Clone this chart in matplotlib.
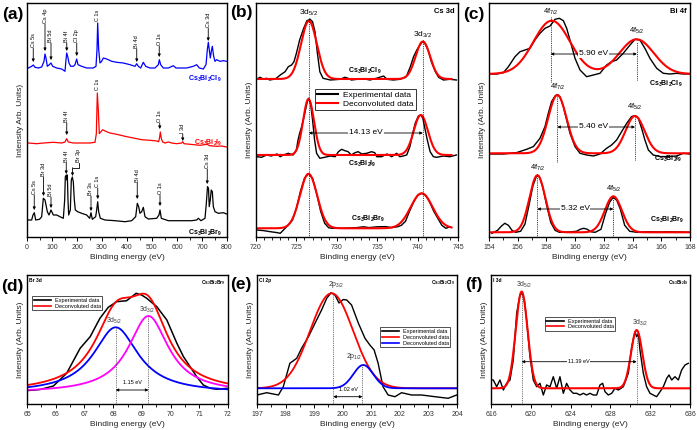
import numpy as np
import matplotlib
matplotlib.use('Agg')
import matplotlib.pyplot as plt
from matplotlib.ticker import MultipleLocator
from matplotlib.lines import Line2D

plt.rcParams['font.family'] = ['Liberation Sans', 'DejaVu Sans']
plt.rcParams['mathtext.fontset'] = 'custom'
plt.rcParams['mathtext.rm'] = 'Liberation Sans'
plt.rcParams['mathtext.bf'] = 'Liberation Sans:bold'
plt.rcParams['mathtext.it'] = 'Liberation Sans:italic'

# ---------------- (a) survey spectra ----------------
a_cl_x = [5.3, 18.7, 25.3, 32, 45.3, 58.7, 68, 72, 76, 81.3, 89.3, 96, 102.7, 118.7, 138.7, 152, 156, 158.7, 162.7, 168,
          174.7, 185.3, 192, 198.7, 204, 218.7, 238.7, 265.3, 276, 280, 282.7, 286.7, 292, 298.7, 305.3, 318.7, 338.7, 358.7,
          385.3, 412, 432, 438.7, 445.3, 454.7, 465.3, 474.7, 492, 512, 525.3, 529.3, 534.7, 545.3, 565.3, 585.3, 596, 618.7,
          638.7, 665.3, 678.7, 689.3, 705.3, 716, 721.3, 725.3, 730.7, 733.3, 737.3, 741.3, 746.7, 752, 758.7, 772, 785.3, 798.7]
a_cl_y = [0, 1.7, 3, 0.7, 0, 1, 6.7, 14, 10, 1.7, 3.3, 5, 1.7, 0, -1, -3.3, 8.3, 15, 11.7, 5,
          1.7, 1.7, 3.3, 9, 3.3, 1.7, 0, 0, 1.7, 18.3, 45, 18.3, 5, 6.7, 10, 9, 6.7, 5.7, 5, 3.3,
          1.7, 4.3, 1.7, 0, 5.7, 1.7, 0, 0, 3.3, 8.3, 3.3, 0, 0, 2.3, 0, 0, 0, 1.7, 3.3, 0,
          -1, 3.3, 18.3, 25.7, 15, 10, 16.7, 21.7, 11.7, 6.7, 8.3, 6.7, 7.3, 6.7]
a_i_x = [5.3, 38.7, 65.3, 105.3, 138.7, 152, 158.7, 165.3, 185.3, 225.3, 252, 272, 277.3, 281.3, 285.3, 289.3, 294.7,
         302.7, 312, 332, 358.7, 392, 425.3, 458.7, 492, 518.7, 526.7, 530.7, 533.3, 537.3, 542.7, 552, 565.3, 578.7,
         598.7, 618.7, 622.7, 628, 652, 692, 718.7, 732, 758.7, 778.7, 798.7]
a_i_y = [0, -0.7, 0, 0.7, 0, 1, 4.3, 1, 0, 0, 0, 0.7, 9.3, 50, 32.7, 9.3, 11, 13.3, 12, 10,
         8.7, 6.7, 5, 3.3, 2.7, 2, 1.3, 6, 11, 4.3, 1, 0, 1, 0, -0.7, 0, 1.3, -0.7, -1.3, -2.3,
         -1.3, -2.7, -3.3, -3, -4]
a_br_x = [5.3, 18.7, 24, 29.3, 34.7, 50, 58.7, 65.3, 72, 76, 81.3, 88, 96, 105.3, 118.7, 132, 145.3, 150.7, 153.3, 157.3,
          160, 161.3, 164, 166.7, 173.3, 177.3, 181.3, 185.3, 189.3, 193.3, 202.7, 218.7, 238.7, 250.7, 256, 261.3, 274.7,
          278.7, 282.7, 286.7, 293.3, 312, 352, 392, 418.7, 434.7, 441.3, 446.7, 452, 458.7, 465.3, 472, 485.3, 518.7, 528,
          532, 537.3, 565.3, 618.7, 658.7, 678.7, 685.3, 696, 712, 717.3, 722, 726, 729, 733, 737, 741.3, 745.3, 752, 765.3,
          785.3, 798.7]
a_br_y = [0, 0, 5, 7.3, 0, 0.7, 3.3, 21.7, 20, 15, 8.3, 5, 10, 5, 5, 3.3, 1.7, 20, 43.3, 45,
          40, 45, 20, 5, 10, 40, 43, 38, 20, 10, 8.3, 6.7, 5, 1.7, 7.3, 0.7, 3.3, 10, 18.3, 8.3,
          1.7, 0, -0.7, -1.7, -0.7, 3.3, 16.7, 13.3, 6.7, 8.3, 12.7, 3.3, 1, 1.7, 5, 10, 1.7, -0.7, -0.7, -0.7,
          0, 1.7, -0.7, 1.7, 16.7, 33.3, 31.7, 13.3, 20, 30, 28.3, 13.3, 8.3, 6.7, 7.3, 6]
a_cl_peaks = ['Cs 5s', 'Cs 4p', 'Bi 5d', 'Bi 4f', 'Cl 2p', 'C 1s', 'Bi 4d', 'O 1s', 'Cs 3d']
a_cl_peak_x = [25, 72, 96, 159, 199, 283, 439, 529, 725]
a_i_peaks = ['Bi 4f', 'C 1s', 'O 1s', 'I 3d']
a_i_peak_x = [159, 282, 531, 623]
a_br_peaks = ['Cs 5s', 'Br 3d', 'Bi 5d', 'Bi 4f', 'Br 3s', 'C 1s', 'Bi 4d', 'O 1s', 'Cs 3d']
a_br_peak_x = [29, 66, 96, 157, 256, 283, 441, 532, 721]

# ---------------- (b) Cs 3d ----------------
b_cl_x = [720.1, 720.5, 720.9, 721.3, 721.7, 722.4, 723.0, 723.6, 724.0, 724.4, 724.7, 725.0, 725.4, 725.9, 726.3, 726.7,
          727.0, 727.3, 727.6, 727.9, 728.3, 729.2, 730.4, 731.0, 731.4, 731.8, 732.5, 733.3, 734.1, 734.9, 735.8, 736.2,
          737.0, 737.8, 738.6, 739.1, 739.5, 739.9, 740.3, 740.6, 740.9, 741.3, 741.7, 742.2, 742.6, 743.2, 744.0, 744.8]
b_cl_y = [0, 1.7, 0, 0.7, -1, 0, 4, 7.3, 12.3, 14, 17.3, 25.7, 39, 50.7, 58.3, 59.7, 57.3, 47.3, 25.7, 7.3,
          0.7, -1, -0.3, 1.7, 0.7, -1, -0.3, 0.3, -1, 0.7, 3, -0.3, -1, -0.3, 2.3, 12.3, 22.3, 29, 34, 37.3,
          35.7, 29, 17.3, 7.3, 1.7, -1, -0.3, -1]
b_i_x = [720.1, 720.7, 721.3, 721.9, 722.6, 723.0, 723.4, 724.0, 724.6, 725.0, 725.2, 725.4, 725.65, 725.95, 726.3, 726.5,
         726.75, 727.0, 727.25, 727.5, 727.9, 728.5, 729.2, 729.8, 730.2, 730.6, 731.0, 731.4, 731.8, 732.25, 732.65,
         733.1, 733.7, 734.3, 734.7, 734.95, 735.55, 736.2, 736.8, 737.4, 737.8, 738.2, 738.65, 739.05, 739.4, 739.7,
         740.1, 740.4, 740.65, 740.9, 741.2, 741.55, 741.95, 742.35, 743.2, 744.0, 744.8]
b_i_y = [-1.7, -2.3, 0, -1, 1, -1.7, 0, 1.7, 0, 5, 15, 21.7, 28.3, 38.3, 51.7, 56.7, 51.7, 35, 15, 1.7,
         -3.3, -2.3, -1, -1.7, 3.3, 5.7, 4.3, 3.3, 0, 2.3, 3.3, 1, 1.7, 3.3, 2.3, -1.7, -1.7, 1, -1.7, 1.7,
         -1.7, -1, 0, 8.3, 21.7, 31.7, 39, 40, 36.7, 26.7, 15, 3.3, -1.7, -2.3, -1, -1.7, 0]
b_br_x = [720.1, 720.9, 721.7, 722.6, 723.0, 723.4, 723.8, 724.5, 725.0, 725.5, 726.0, 726.5, 727.0, 727.5, 728.0, 728.5,
          729.0, 729.5, 730.5, 731.5, 732.5, 733.3, 734.0, 735.0, 736.0, 736.8, 737.5, 738.0, 738.5, 739.0, 739.5, 740.0,
          740.5, 741.0, 741.5, 742.0, 742.5, 743.0, 743.5, 744.0]
b_br_y = [-1.7, -2.3, -3.3, -4.3, -5, -1.7, 1.7, 8, 20, 37, 50, 54.5, 50, 35, 17, 5, 0.5, 0, 0, 0.3,
          0.7, 1.5, 0.7, 1.5, 1.7, 0.7, 1.5, 3, 7, 17, 26, 33, 35, 33, 26, 17, 10, 3, 0, 1.5]
# fitted components: (centre eV, height, FWHM eV)
b_cl_fit = [(726.55, 58, 2.3), (740.65, 37.5, 2.1)]
b_i_fit = [(726.5, 56, 1.6), (740.4, 40, 2.05)]
b_br_fit = [(726.5, 54.5, 2.5), (740.5, 35, 3.2)]

# ---------------- (c) Bi 4f ----------------
c_cl_x = [154.07, 154.53, 155.0, 155.35, 155.81, 156.16, 156.51, 156.85, 157.2, 157.55, 157.9, 158.25, 158.6, 158.9,
          159.18, 159.41, 159.64, 159.99, 160.34, 160.8, 161.27, 161.73, 162.19, 162.54, 162.89, 163.35, 163.82, 164.17,
          164.51, 164.86, 165.21, 165.68, 166.14, 166.6, 167.07, 167.53, 167.99]
c_cl_y = [0, 0, 1.3, 7.3, 17.3, 22.3, 24, 25.7, 34, 40.7, 45.7, 48, 54.7, 55.7, 53.3, 45.7, 34, 15.7, 4, -2.7,
          -1, 0.7, 9, 12.3, 14, 20.7, 29, 34.7, 34, 25.7, 15.7, 5.7, 0.7, 0, 0.7, 0, 0]
c_i_x = [154.07, 155.0, 155.93, 156.62, 157.09, 157.55, 157.9, 158.13, 158.36, 158.6, 158.76, 158.94, 159.18, 159.41,
         159.64, 159.99, 160.34, 160.8, 161.27, 161.73, 162.19, 162.54, 162.89, 163.24, 163.59, 163.93, 164.17, 164.4,
         164.63, 164.86, 165.1, 165.44, 165.91, 166.49, 167.07, 167.53, 167.99]
c_i_y = [-0.7, -0.7, 0.7, 4, 6.7, 15, 26.7, 40, 51.7, 57.3, 58.7, 56.7, 46.7, 33.3, 20, 6.7, 0, -1.7, -2.7, -0.7,
         5, 8.3, 13.3, 21.7, 30, 36.7, 37.7, 35, 25, 13.3, 3.3, -1.7, -3.3, -3.3, -2.7, 0, -0.7]
c_br_x = [154.2, 154.6, 154.85, 155.1, 155.35, 155.6, 155.85, 156.2, 156.5, 156.8, 157.05, 157.3, 157.5, 157.75, 158.0,
          158.3, 158.6, 158.9, 159.3, 159.7, 160.1, 160.35, 160.6, 160.85, 161.1, 161.4, 161.8, 162.1, 162.4, 162.65,
          162.9, 163.15, 163.45, 163.8, 164.3, 165.0, 165.8, 166.6, 167.4, 168.0]
c_br_y = [-1, 2, 6, 9, 7, 2, 0, 1, 8, 28, 46, 56, 56, 45, 28, 10, 2, 0, 0, 0.5,
          1, 3, 4, 3, 0.5, 0, 3, 18, 30, 35, 32, 23, 7, 1, 0, 0.5, 0.3, 0.5, 0.3, 0]
c_cl_fit = [(158.37, 53.3, 3.0), (164.28, 34.7, 2.8)]
c_i_fit = [(158.76, 58.3, 1.5), (164.17, 37.3, 1.55)]
c_br_fit = [(157.37, 57, 1.3), (162.66, 36, 1.4)]
c_split = ['5.90 eV', '5.40 eV', '5.32 eV']

# ---------------- (d) Br 3d ----------------
d_x = [65.05, 65.45, 65.92, 66.38, 66.85, 67.2, 67.54, 67.83, 68.12, 68.47, 68.65, 68.8, 68.99, 69.17, 69.52, 69.87,
       70.22, 70.45, 70.68, 70.91, 71.14, 71.38, 71.61, 71.96]
d_y = [12.5, 13.5, 17, 29.7, 54.7, 66.3, 84.7, 95.7, 101.3, 102.3, 106.3, 109.7, 108, 104.7, 96.3, 83,
       59.7, 46.3, 36.3, 26.3, 18, 14.7, 13.7, 14.7]
d_bg = 10
# Lorentzian components: (centre eV, height, HWHM eV)
d_comp_52 = (68.09, 65.7, 0.95)
d_comp_32 = (69.23, 77, 0.85)
d_envelope = [(68.09, 65.3, 0.9), (69.23, 71.9, 0.85)]

# ---------------- (e) Cl 2p ----------------
e_x = [197.0, 197.34, 197.75, 197.92, 198.15, 198.39, 198.56, 198.8, 199.03, 199.26, 199.44, 199.59, 199.73, 199.87,
       200.02, 200.14, 200.31, 200.55, 200.78, 200.95, 201.1, 201.24, 201.41, 201.59, 201.83, 202.06, 202.41, 202.76,
       203.23, 203.69, 203.99]
e_y = [9, 11.3, 9, 17.3, 40.7, 45.7, 55.7, 67.3, 80.7, 94, 105.7, 111.3, 109, 101, 104.5, 104, 99, 80.7, 65.7, 59,
       54, 40.7, 17.3, 9, 7.3, 11.3, 9, 9, 7.3, 5.7, 9]
e_bg = 15.7
e_fit_32 = (199.61, 95, 1.77)
e_fit_12 = (200.72, 23.3, 0.82)

# ---------------- (f) I 3d ----------------
f_x = [616.07, 616.23, 616.57, 616.9, 617.24, 617.57, 617.91, 618.24, 618.58, 618.91, 619.15, 619.35, 619.58, 619.92,
       620.25, 620.59, 620.92, 621.26, 621.59, 621.93, 622.26, 622.6, 622.93, 623.27, 623.6, 623.94, 624.27, 624.61,
       624.94, 625.28, 625.61, 625.95, 626.28, 626.62, 626.95, 627.22, 627.46, 627.79, 628.13, 628.46, 628.8, 629.3,
       629.8, 630.14, 630.47, 630.64, 630.81, 630.97, 631.31, 631.64, 631.98, 632.31, 632.65, 632.99, 633.32, 633.66,
       633.89, 634.16, 634.49, 634.83, 635.16, 635.5, 635.83]
f_y = [24, 24, 17.3, 24, 14, 20.7, 24, 44, 90.7, 109, 110.7, 104, 84, 47.3, 24, 17.3, 20.7, 9, 19, 17.3,
       27.3, 15.7, 27.3, 10.7, 20.7, 14, 10.7, 10.7, 9, 10.7, 9, 10.7, 9, 9, 19, 20.7, 12.3, 9, 10.7, 15.7,
       14, 17.3, 30.7, 57.3, 72.3, 67.3, 70.7, 54, 30.7, 17.3, 10.7, 9, 7.3, 12.3, 17.3, 25.7, 29, 24, 27.3, 24,
       34, 39, 40.7]
f_bg = 15.7
f_fit = [(619.08, 96.7, 1.4), (630.64, 58.3, 1.34)]

W, H = 697, 430
fig = plt.figure(figsize=(W / 100, H / 100), dpi=100)


def axbox(l, r, t, b):
    return fig.add_axes([l / W, 1 - b / H, (r - l) / W, (b - t) / H])


def gauss(x, c, h, w):
    return h * np.exp(-4 * np.log(2) * ((x - c) / w) ** 2)


def lor(x, c, h, g):
    return h / (1 + ((x - c) / g) ** 2)


TICKC = '#333333'


def style(ax, xlim, ylim, major, minor, ylabel='Intensity (Arb. Units)'):
    ax.set_xlim(*xlim)
    ax.set_ylim(*ylim)
    ax.set_yticks([])
    ax.xaxis.set_major_locator(MultipleLocator(major))
    ax.xaxis.set_minor_locator(MultipleLocator(minor))
    ax.tick_params(axis='x', which='major', direction='out', length=3, width=0.7, labelsize=5,
                   labelcolor=TICKC, pad=2)
    ax.tick_params(axis='x', which='minor', direction='out', length=1.8, width=0.6)
    for s in ax.spines.values():
        s.set_linewidth(1.0)
    ax.set_xlabel('Binding energy (eV)', fontsize=6, color='#222222', labelpad=2)
    ax.set_ylabel(ylabel, fontsize=6, color='#222222', labelpad=2)


def darrow(ax, x1, x2, y, fs, text=None, ty=None, tx=None, inline=True):
    ax.annotate('', xy=(x2, y), xytext=(x1, y),
                arrowprops=dict(arrowstyle='<|-|>', lw=0.6, color='k', mutation_scale=4,
                                shrinkA=0, shrinkB=0))
    if text:
        if inline:
            ax.text(tx, y, text, fontsize=fs, ha='center', va='center',
                    bbox=dict(facecolor='white', edgecolor='none', pad=0.6))
        else:
            ax.text(tx, ty, text, fontsize=fs, ha='center', va='center')


def down_arrow(ax, x, ytip, length, label, fs=4):
    if length > 0:
        ax.annotate('', xy=(x, ytip), xytext=(x, ytip + length),
                    arrowprops=dict(arrowstyle='-|>', lw=0.6, color='k', mutation_scale=4,
                                    shrinkA=0, shrinkB=0))
    ax.text(x, ytip + length + 0.8, label, rotation=90, fontsize=fs, ha='center', va='bottom')


# ---------- panel (a) ----------
ax = axbox(27, 227, 3, 237)
off_cl, off_i, off_br = 169, 94, 17
ax.plot(a_cl_x, np.array(a_cl_y) + off_cl, color='#0000ff', lw=0.9)
ax.plot(a_i_x, np.array(a_i_y) + off_i, color='#ff0000', lw=0.9)
ax.plot(a_br_x, np.array(a_br_y) + off_br, color='k', lw=0.9)
style(ax, (0, 800), (0, 234), 100, 50, ylabel='Intensity Arb. Units)')
cl_tips = [(175, 14), (186, 27), (177, 17), (186, 8), (181, 13), (215, 0), (175, 13), (180, 11), (196, 13)]
for lab, x, (yt, ln) in zip(a_cl_peaks, a_cl_peak_x, cl_tips):
    down_arrow(ax, x, yt, ln, lab)
i_tips = [(102, 12), (146, 0), (108, 6), (96, 7)]
for lab, x, (yt, ln) in zip(a_i_peaks, a_i_peak_x, i_tips):
    down_arrow(ax, x, yt, ln, lab)
br_tips = [(27, 15), (41, 19), (29, 11), (63, 11), (26, 15), (38, 11), (38, 16), (31, 11), (53, 15)]
for lab, x, (yt, ln) in zip(a_br_peaks, a_br_peak_x, br_tips):
    down_arrow(ax, x, yt, ln, lab)
# bent arrow for Br 3p
ax.plot([206, 206, 182], [74, 69, 69], color='k', lw=0.6)
ax.annotate('', xy=(182, 61), xytext=(182, 69.3),
            arrowprops=dict(arrowstyle='-|>', lw=0.6, color='k', mutation_scale=4, shrinkA=0, shrinkB=0))
ax.text(206, 74.8, 'Br 3p', rotation=90, fontsize=4, ha='center', va='bottom')
ax.text(780, 158, r'$\mathbf{Cs_3Bi_2Cl_9}$', color='#0000ff', fontsize=5, ha='right', va='center')
ax.text(780, 94, r'$\mathbf{Cs_3Bi_2I_9}$', color='#ff0000', fontsize=5, ha='right', va='center')
ax.text(780, 4, r'$\mathbf{Cs_3Bi_2Br_9}$', color='k', fontsize=5, ha='right', va='center')

# ---------- panel (b) ----------
ax = axbox(256, 458, 3, 237)
style(ax, (720, 745), (0, 234), 5, 1)
xb = np.linspace(720.2, 744.2, 800)
offs = [158, 82, 8.7]
for (xe, ye, fit, o) in zip([b_cl_x, b_i_x, b_br_x], [b_cl_y, b_i_y, b_br_y],
                            [b_cl_fit, b_i_fit, b_br_fit], offs):
    ax.plot(xe, np.array(ye) + o, color='k', lw=1.0)
    yf = sum(gauss(xb, c, h, w) for c, h, w in fit) + o
    ax.plot(xb, yf, color='#ff0000', lw=1.5)
for xv, ytop in [(726.55, 219), (740.65, 197)]:
    ax.plot([xv, xv], [0, ytop], color='k', lw=0.6, ls=(0, (1, 1.2)))
ax.text(726.55, 224, r'3d$_{5/2}$', fontsize=6, ha='center', va='center')
ax.text(740.65, 202, r'3d$_{3/2}$', fontsize=6, ha='center', va='center')
darrow(ax, 726.55, 740.65, 104, 6, '14.13 eV', tx=733.6)
ax.text(0.985, 0.965, 'Cs 3d', transform=ax.transAxes, fontsize=5.5, weight='bold', ha='right', va='center')
ax.text(733.5, 166, r'$\mathbf{Cs_3Bi_2Cl_9}$', fontsize=5, ha='center', va='center')
ax.text(733.1, 73, r'$\mathbf{Cs_3Bi_2I_9}$', fontsize=5, ha='center', va='center')
ax.text(733.9, 18, r'$\mathbf{Cs_3Bi_2Br_9}$', fontsize=5, ha='center', va='center')
hl = [Line2D([], [], color='k', lw=1.5), Line2D([], [], color='#ff0000', lw=1.5)]
leg = ax.legend(hl, ['Experimental data', 'Deconvoluted data'], loc='upper left',
                bbox_to_anchor=(0.29, 0.632), fontsize=6, frameon=True, fancybox=False,
                handlelength=2.6, borderpad=0.25, labelspacing=0.1, handletextpad=0.6, borderaxespad=0)
leg.get_frame().set_edgecolor('k')
leg.get_frame().set_linewidth(0.7)

# ---------- panel (c) ----------
ax = axbox(489, 690, 3, 237)
style(ax, (154, 168), (0, 234), 2, 1)
xc = np.linspace(154, 168, 800)
offs = [163, 83.7, 4.7]
for (xe, ye, fit, o) in zip([c_cl_x, c_i_x, c_br_x], [c_cl_y, c_i_y, c_br_y],
                            [c_cl_fit, c_i_fit, c_br_fit], offs):
    ax.plot(xe, np.array(ye) + o, color='k', lw=1.0)
    yf = sum(gauss(xc, c, h, w) for c, h, w in fit) + o
    ax.plot(xc, yf, color='#ff0000', lw=1.5)
# dotted guides, labels, splittings
guides = [((158.3, 220, 155), (164.3, 195, 157), 183, 161.3, (225, 206)),
          ((158.76, 142, 75), (164.17, 120, 77), 110, 161.3, (150, 130)),
          ((157.37, 63, 0), (162.66, 41, 0), 28, 160.0, (69, 48))]
for (g1, g2, ya, tx, (l1, l2)), txt in zip(guides, c_split):
    for xv, yt, yb in (g1, g2):
        ax.plot([xv, xv], [yb, yt], color='k', lw=0.6, ls=(0, (1, 1.2)))
    ax.text(g1[0], l1, r'4f$_{7/2}$', fontsize=5.5, ha='center', va='center')
    ax.text(g2[0], l2, r'4f$_{5/2}$', fontsize=5.5, ha='center', va='center')
    darrow(ax, g1[0], g2[0], ya, 6, txt, tx=tx)
ax.text(0.985, 0.965, 'Bi 4f', transform=ax.transAxes, fontsize=5.5, weight='bold', ha='right', va='center')
ax.text(166.3, 153, r'$\mathbf{Cs_3Bi_2Cl_9}$', fontsize=5, ha='center', va='center')
ax.text(166.5, 78, r'$\mathbf{Cs_3Bi_2I_9}$', fontsize=5, ha='center', va='center')
ax.text(166.4, 17, r'$\mathbf{Cs_3Bi_2Br_9}$', fontsize=5, ha='center', va='center')

# ---------- panel (d) ----------
ax = axbox(27, 228, 275, 404)
style(ax, (65, 72), (0, 129), 1, 0.5)
xd = np.linspace(65, 72, 600)
ax.plot(d_x, np.array(d_y) + 1, color='k', lw=1.1)
env = d_bg + sum(lor(xd, c, h, g) for c, h, g in d_envelope)
ax.plot(xd, env + 1, color='#ff0000', lw=1.3)
ax.plot(xd, d_bg + lor(xd, *d_comp_52) + 1, color='#0000ff', lw=1.3)
ax.plot(xd, d_bg + lor(xd, *d_comp_32) + 1, color='#ff00ff', lw=1.3)
for xv, yt in [(68.09, 77), (69.23, 88)]:
    ax.plot([xv, xv], [0, yt], color='#444444', lw=0.6, ls=(0, (1, 1.2)))
ax.text(68.05, 83, r'3d$_{5/2}$', fontsize=5, ha='center', va='center', color='#333333')
ax.text(69.2, 94, r'3d$_{3/2}$', fontsize=5, ha='center', va='center', color='#333333')
darrow(ax, 68.09, 69.23, 14, 4, '1.15 eV', tx=68.66, ty=22, inline=False)
ax.text(0.01, 0.975, 'Br 3d', transform=ax.transAxes, fontsize=3.5, weight='bold', ha='left', va='top')
ax.text(0.99, 0.975, r'$\mathbf{Cs_3Bi_2Br_9}$', transform=ax.transAxes, fontsize=3.5, ha='right', va='top')
hl = [Line2D([], [], color='k', lw=1.2), Line2D([], [], color='#ff0000', lw=1.2)]
leg = ax.legend(hl, ['Experimental data', 'Deconvoluted data'], loc='upper left',
                bbox_to_anchor=(0.025, 0.835), fontsize=4, frameon=True, fancybox=False,
                handlelength=3.2, borderpad=0.3, labelspacing=0.15, handletextpad=0.6, borderaxespad=0)
leg.get_frame().set_edgecolor('k')
leg.get_frame().set_linewidth(0.6)

# ---------- panel (e) ----------
ax = axbox(257, 457, 275, 404)
style(ax, (197, 204), (0, 129), 1, 0.5)
xe_ = np.linspace(197, 204, 600)
ax.plot(e_x, e_y, color='k', lw=1.0)
ax.plot(xe_, e_bg + gauss(xe_, *e_fit_32), color='#ff0000', lw=1.3)
ax.plot(xe_, e_bg + gauss(xe_, *e_fit_12), color='#0000ff', lw=1.3)
for xv, yt in [(199.67, 112), (200.69, 39)]:
    ax.plot([xv, xv], [0, yt], color='#444444', lw=0.6, ls=(0, (1, 1.2)))
ax.text(199.78, 119, r'2p$_{3/2}$', fontsize=5, ha='center', va='center', color='#333333')
ax.text(200.4, 47, r'2p$_{1/2}$', fontsize=5, ha='center', va='center', color='#333333')
darrow(ax, 199.67, 200.69, 7.3, 4, '1.02 eV', tx=200.19, ty=14.5, inline=False)
ax.text(0.01, 0.975, 'Cl 2p', transform=ax.transAxes, fontsize=3.5, weight='bold', ha='left', va='top')
ax.text(0.99, 0.975, r'$\mathbf{Cs_3Bi_2Cl_9}$', transform=ax.transAxes, fontsize=3.5, ha='right', va='top')
hl = [Line2D([], [], color='k', lw=1.2), Line2D([], [], color='#ff0000', lw=1.2),
      Line2D([], [], color='#0000ff', lw=1.2)]
leg = ax.legend(hl, ['Experimental data', 'Deconvoluted data', 'Deconvoluted data'], loc='upper left',
                bbox_to_anchor=(0.615, 0.595), fontsize=4, frameon=True, fancybox=False,
                handlelength=3.2, borderpad=0.3, labelspacing=0.15, handletextpad=0.6, borderaxespad=0)
leg.get_frame().set_edgecolor('k')
leg.get_frame().set_linewidth(0.6)

# ---------- panel (f) ----------
ax = axbox(491, 690, 275, 404)
style(ax, (616, 636), (0, 129), 4, 2)
xf = np.linspace(616, 636, 800)
ax.plot(f_x, f_y, color='k', lw=1.0)
ax.plot(xf, f_bg + sum(gauss(xf, c, h, w) for c, h, w in f_fit), color='#ff0000', lw=1.5)
for xv, yt in [(619.08, 111), (630.64, 71)]:
    ax.plot([xv, xv], [0, yt], color='#444444', lw=0.6, ls=(0, (1, 1.2)))
ax.text(619.3, 119, r'3d$_{5/2}$', fontsize=5, ha='center', va='center', color='#333333')
ax.text(631.0, 81, r'3d$_{3/2}$', fontsize=5, ha='center', va='center', color='#333333')
darrow(ax, 619.08, 630.64, 42.3, 4, '11.39 eV', tx=624.8)
ax.text(0.01, 0.975, 'I 3d', transform=ax.transAxes, fontsize=3.5, weight='bold', ha='left', va='top')
ax.text(0.99, 0.975, r'$\mathbf{Cs_3Bi_2I_9}$', transform=ax.transAxes, fontsize=3.5, ha='right', va='top')
hl = [Line2D([], [], color='k', lw=1.2), Line2D([], [], color='#ff0000', lw=1.2)]
leg = ax.legend(hl, ['Experimental data', 'Deconvoluted data'], loc='upper left',
                bbox_to_anchor=(0.27, 0.675), fontsize=4, frameon=True, fancybox=False,
                handlelength=3.2, borderpad=0.3, labelspacing=0.15, handletextpad=0.6, borderaxespad=0)
leg.get_frame().set_edgecolor('k')
leg.get_frame().set_linewidth(0.6)

# panel letters
for lab, (px, py) in zip(['(a)', '(b)', '(c)', '(d)', '(e)', '(f)'],
                         [(13, 15), (241, 13), (474, 14), (12, 287), (241, 285), (474, 285)]):
    fig.text(px / W, 1 - py / H, lab, fontsize=12.5, weight='bold', ha='center', va='center')

fig.savefig('out.png', dpi=100)
